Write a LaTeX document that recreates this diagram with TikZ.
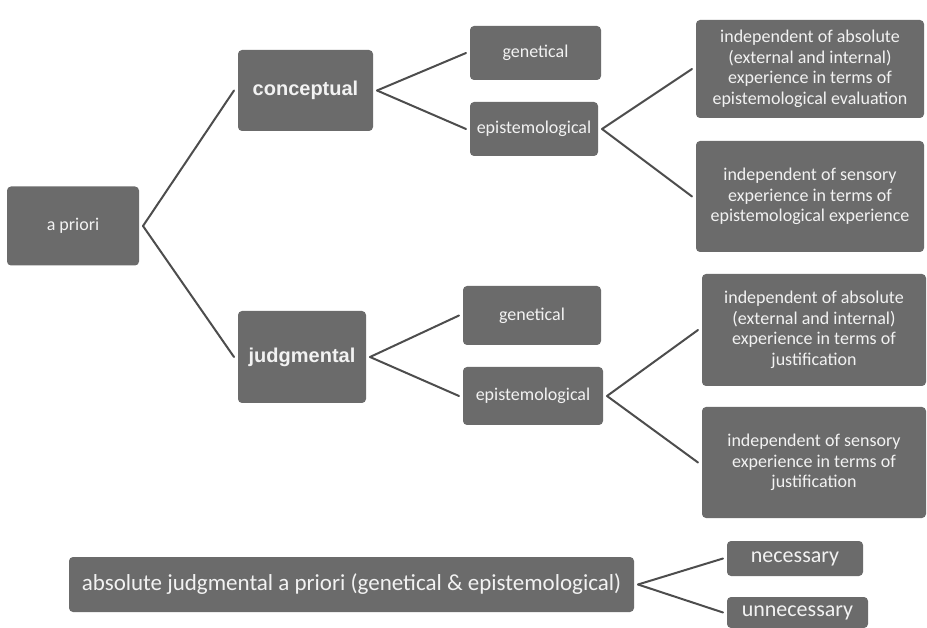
\documentclass[tikz,border=0pt]{standalone}
\usepackage{fontspec}
\setmainfont{Carlito}
\newfontfamily\headfont{Liberation Sans}
\definecolor{boxgray}{HTML}{6B6B6B}
\definecolor{boxtext}{HTML}{F2F2F2}
\definecolor{linkgray}{HTML}{4D4D4D}
\begin{document}
\begin{tikzpicture}[x=1pt, y=-1pt, line join=round, line cap=round,
		box/.style={fill=boxgray, text=boxtext, rounded corners=4pt, inner sep=0pt,
			outer sep=4pt, align=center, font=\fontsize{18}{20.5}\selectfont},
		headbox/.style={box, font=\headfont\bfseries\fontsize{20}{23}\selectfont},
		link/.style={draw=linkgray, line width=2pt}]
		\useasboundingbox (0,0) rectangle (927,628);
		% left part
		\node[box, minimum width=132, minimum height=79] (apriori) at (73,226) {a priori};
		\node[headbox, minimum width=135, minimum height=81] (concept) at (305.5,90.5) {conceptual};
		\node[headbox, minimum width=128, minimum height=92] (judg) at (302,357) {judgmental};
		% middle part
		\node[box, minimum width=131, minimum height=54] (gencon) at (535.5,53) {genetical};
		\node[box, minimum width=128, minimum height=54] (epicon) at (534,129) {epistemological};
		\node[box, minimum width=138, minimum height=59] (genjud) at (532,315.5) {genetical};
		\node[box, minimum width=140, minimum height=58] (epijud) at (533,396) {epistemological};
		% right part
		\node[box, minimum width=228, minimum height=98] (absevl) at (810,69)
			{independent of absolute\\(external and internal)\\experience in terms of\\epistemological evaluation};
		\node[box, minimum width=228, minimum height=111] (senexp) at (810,196.5)
			{independent of sensory\\experience in terms of\\epistemological experience};
		\node[box, minimum width=224, minimum height=112] (absjus) at (814,330)
			{independent of absolute\\(external and internal)\\experience in terms of\\justification};
		\node[box, minimum width=224, minimum height=111] (senjus) at (814,462.5)
			{independent of sensory\\experience in terms of\\justification};
		% bottom line
		\node[box, font=\fontsize{23}{26}\selectfont, minimum width=565, minimum height=55] (absolute) at (351.5,584.5)
			{absolute judgmental a priori (genetical \& epistemological)};
		\node[box, font=\fontsize{22}{24}\selectfont, minimum width=136, minimum height=35] (nec) at (795,558.5) {necessary};
		\node[box, font=\fontsize{22}{24}\selectfont, minimum width=141, minimum height=31] (unnec) at (797.5,612.5) {unnecessary};
		\foreach \a/\b in {apriori/concept, apriori/judg, concept/gencon, concept/epicon,
			judg/genjud, judg/epijud, epicon/absevl, epicon/senexp, epijud/absjus,
			epijud/senjus, absolute/nec, absolute/unnec}{
			\draw[link] (\a.east) -- (\b.west);
		}
\end{tikzpicture}
\end{document}
